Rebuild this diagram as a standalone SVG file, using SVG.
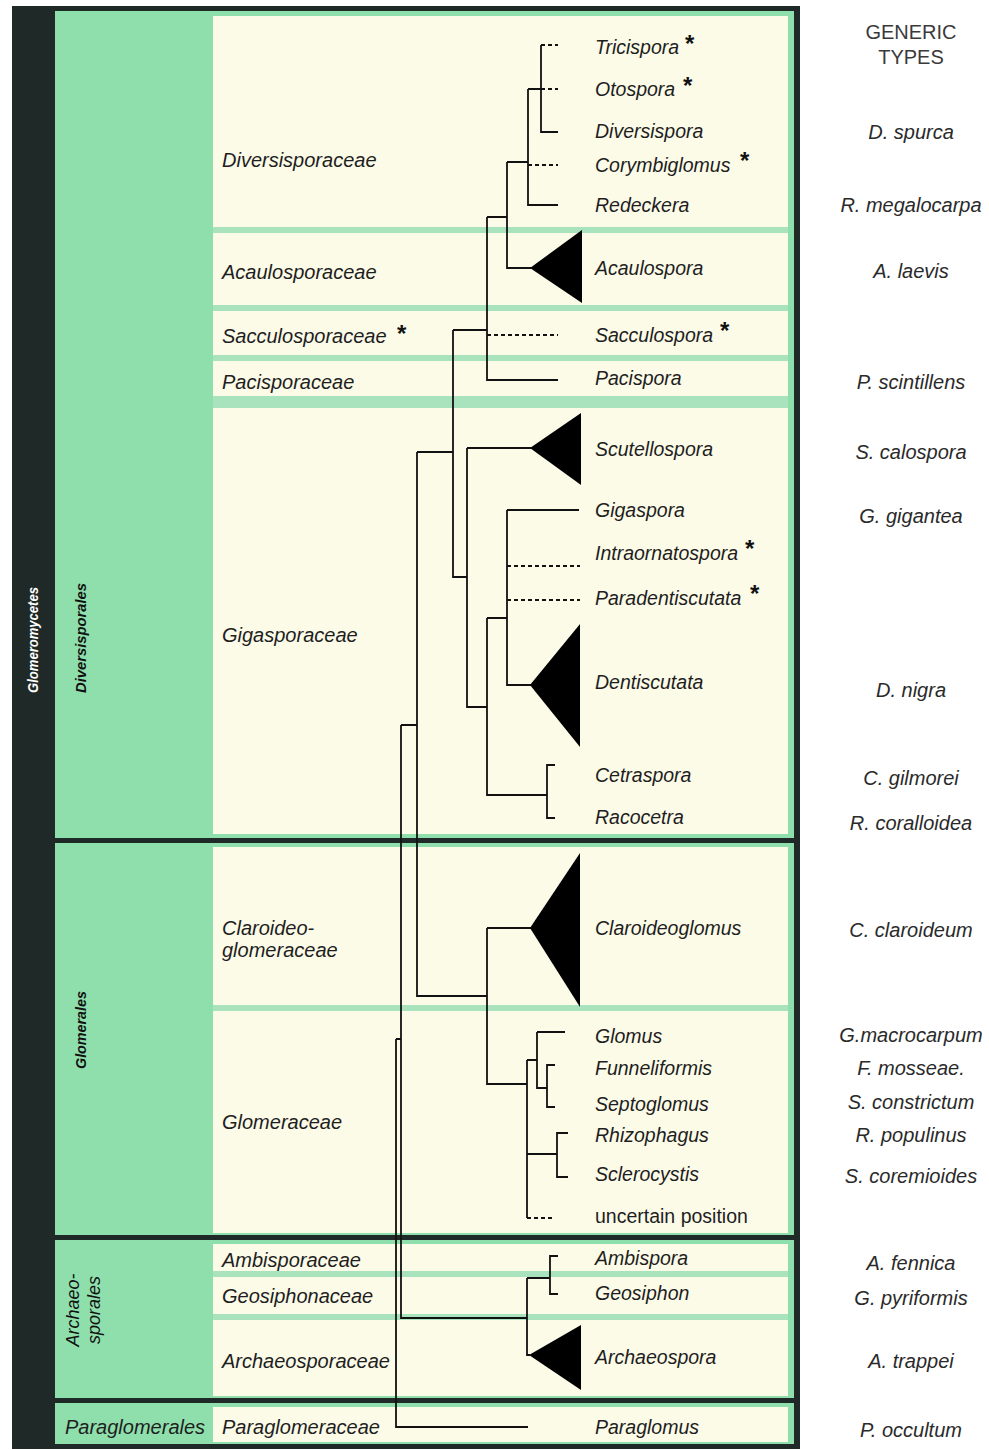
<svg xmlns="http://www.w3.org/2000/svg" width="989" height="1450" viewBox="0 0 989 1450">
<style>
text{font-family:"Liberation Sans",Arial,Helvetica,sans-serif;dominant-baseline:central}
.fam{font-size:20px;font-style:italic;fill:#1e1e1e}
.gen{font-size:19.5px;font-style:italic;fill:#1e1e1e}
.typ{font-size:20px;font-style:italic;fill:#2a2a2a;text-anchor:middle}
.hdr{font-size:20px;fill:#3a3a3a;text-anchor:middle}
.ord{font-size:15px;font-style:italic;font-weight:bold;fill:#111;text-anchor:middle}
.cls{font-size:14px;font-style:italic;font-weight:bold;fill:#fff;text-anchor:middle}
.star{font-size:24px;font-weight:bold;fill:#111}
.ln{fill:none;stroke:#111;stroke-width:1.8}
.ds{stroke-dasharray:4 3}
.tri{fill:#000}
.cream{fill:#fcfbe8}
.sep{fill:#a8e3be}
.dk{fill:#1f2a28}
.grn{fill:#8fdfac}
</style>
<rect x="0" y="0" width="989" height="1450" fill="#fff"/>
<g id="background">
<rect class="dk" x="12" y="6" width="788" height="1443"/>
<rect class="grn" x="55" y="11" width="739" height="1433"/>
<rect class="cream" x="213" y="16" width="575" height="211"/>
<rect class="cream" x="213" y="233" width="575" height="72"/>
<rect class="cream" x="213" y="311" width="575" height="44"/>
<rect class="cream" x="213" y="361" width="575" height="35"/>
<rect class="cream" x="213" y="408" width="575" height="426"/>
<rect class="cream" x="213" y="847" width="575" height="158"/>
<rect class="cream" x="213" y="1011" width="575" height="222"/>
<rect class="cream" x="213" y="1244" width="575" height="27"/>
<rect class="cream" x="213" y="1277" width="575" height="37"/>
<rect class="cream" x="213" y="1320" width="575" height="76"/>
<rect class="cream" x="213" y="1407" width="575" height="35"/>
<rect class="sep" x="213" y="227" width="575" height="6"/>
<rect class="sep" x="213" y="305" width="575" height="6"/>
<rect class="sep" x="213" y="355" width="575" height="6"/>
<rect class="sep" x="213" y="396" width="575" height="12"/>
<rect class="sep" x="213" y="1005" width="575" height="6"/>
<rect class="sep" x="213" y="1271" width="575" height="6"/>
<rect class="sep" x="213" y="1314" width="575" height="6"/>
<rect class="dk" x="55" y="838" width="745" height="5"/>
<rect class="dk" x="55" y="1235" width="745" height="5"/>
<rect class="dk" x="55" y="1398" width="745" height="5"/>
</g>
<g id="ranks">
<text class="cls" transform="translate(33,640) rotate(-90)" textLength="106" lengthAdjust="spacingAndGlyphs">Glomeromycetes</text>
<text class="ord" transform="translate(80,638) rotate(-90)" textLength="110" lengthAdjust="spacingAndGlyphs">Diversisporales</text>
<text class="ord" transform="translate(80,1030) rotate(-90)" textLength="78" lengthAdjust="spacingAndGlyphs">Glomerales</text>
<text class="ord" style="font-size:18px;font-weight:normal" transform="translate(73,1310) rotate(-90)">Archaeo-</text>
<text class="ord" style="font-size:18px;font-weight:normal" transform="translate(94,1310) rotate(-90)">sporales</text>
<text class="fam" x="65" y="1427">Paraglomerales</text>
</g>
<g id="families">
<text class="fam" x="222" y="160">Diversisporaceae</text>
<text class="fam" x="222" y="272">Acaulosporaceae</text>
<text class="fam" x="222" y="336">Sacculosporaceae</text>
<text class="star" x="397" y="333">*</text>
<text class="fam" x="222" y="382">Pacisporaceae</text>
<text class="fam" x="222" y="635">Gigasporaceae</text>
<text class="fam" x="222" y="928">Claroideo-</text>
<text class="fam" x="222" y="950">glomeraceae</text>
<text class="fam" x="222" y="1122">Glomeraceae</text>
<text class="fam" x="222" y="1260">Ambisporaceae</text>
<text class="fam" x="222" y="1296">Geosiphonaceae</text>
<text class="fam" x="222" y="1361">Archaeosporaceae</text>
<text class="fam" x="222" y="1427">Paraglomeraceae</text>
</g>
<g id="genera">
<text class="gen" x="595" y="47">Tricispora</text>
<text class="star" x="685" y="43">*</text>
<text class="gen" x="595" y="89">Otospora</text>
<text class="star" x="683" y="85">*</text>
<text class="gen" x="595" y="131">Diversispora</text>
<text class="gen" x="595" y="165">Corymbiglomus</text>
<text class="star" x="740" y="160">*</text>
<text class="gen" x="595" y="205">Redeckera</text>
<text class="gen" x="595" y="268">Acaulospora</text>
<text class="gen" x="595" y="335">Sacculospora</text>
<text class="star" x="720" y="330">*</text>
<text class="gen" x="595" y="378">Pacispora</text>
<text class="gen" x="595" y="449">Scutellospora</text>
<text class="gen" x="595" y="510">Gigaspora</text>
<text class="gen" x="595" y="553">Intraornatospora</text>
<text class="star" x="745" y="548">*</text>
<text class="gen" x="595" y="598">Paradentiscutata</text>
<text class="star" x="750" y="593">*</text>
<text class="gen" x="595" y="682">Dentiscutata</text>
<text class="gen" x="595" y="775">Cetraspora</text>
<text class="gen" x="595" y="817">Racocetra</text>
<text class="gen" x="595" y="928">Claroideoglomus</text>
<text class="gen" x="595" y="1036">Glomus</text>
<text class="gen" x="595" y="1068">Funneliformis</text>
<text class="gen" x="595" y="1104">Septoglomus</text>
<text class="gen" x="595" y="1135">Rhizophagus</text>
<text class="gen" x="595" y="1174">Sclerocystis</text>
<text class="gen" x="595" y="1216" style="font-style:normal">uncertain position</text>
<text class="gen" x="595" y="1258">Ambispora</text>
<text class="gen" x="595" y="1293">Geosiphon</text>
<text class="gen" x="595" y="1357">Archaeospora</text>
<text class="gen" x="595" y="1427">Paraglomus</text>
</g>
<g id="types">
<text class="hdr" x="911" y="32">GENERIC</text>
<text class="hdr" x="911" y="57">TYPES</text>
<text class="typ" x="911" y="132">D. spurca</text>
<text class="typ" x="911" y="205">R. megalocarpa</text>
<text class="typ" x="911" y="271">A. laevis</text>
<text class="typ" x="911" y="382">P. scintillens</text>
<text class="typ" x="911" y="452">S. calospora</text>
<text class="typ" x="911" y="516">G. gigantea</text>
<text class="typ" x="911" y="690">D. nigra</text>
<text class="typ" x="911" y="778">C. gilmorei</text>
<text class="typ" x="911" y="823">R. coralloidea</text>
<text class="typ" x="911" y="930">C. claroideum</text>
<text class="typ" x="911" y="1035">G.macrocarpum</text>
<text class="typ" x="911" y="1068">F. mosseae.</text>
<text class="typ" x="911" y="1102">S. constrictum</text>
<text class="typ" x="911" y="1135">R. populinus</text>
<text class="typ" x="911" y="1176">S. coremioides</text>
<text class="typ" x="911" y="1263">A. fennica</text>
<text class="typ" x="911" y="1298">G. pyriformis</text>
<text class="typ" x="911" y="1361">A. trappei</text>
<text class="typ" x="911" y="1430">P. occultum</text>
</g>
<g id="connectors">
<path class="ln" d="M541,45 V132 H558 M528,89 H541 M528,89 V205 H558 M507,162 H528 M507,162 V268 H531"/>
<path class="ln ds" d="M541,45 H558 M541,89 H558 M528,165 H558"/>
<path class="ln" d="M487,217 H507 M487,217 V380 H558 M453,330 H487 M453,330 V577 H467"/>
<path class="ln ds" d="M487,335 H558"/>
<path class="ln" d="M467,448 H531 M467,448 V707 H487 M487,618 H507 M487,618 V795 H547 M555,765 H547 V818 H555"/>
<path class="ln" d="M507,510 V685 H531 M507,510 H579"/>
<path class="ln ds" d="M507,566 H580 M507,600 H580"/>
<path class="ln" d="M417,452 H453 M417,452 V996 H487 M487,928 H531 M487,928 V1084 H527"/>
<path class="ln" d="M527,1060 V1218 M527,1060 H537 M537,1032 V1088 H547 M537,1032 H565 M555,1065 H547 V1107 H555 M527,1154 H557 M568,1133 H557 V1177 H568"/>
<path class="ln ds" d="M527,1218 H555"/>
<path class="ln" d="M401,725 H417 M401,725 V1318 H527 M396,1039 H401 M396,1039 V1427 H528"/>
<path class="ln" d="M527,1278 V1355 H530 M527,1278 H550 M558,1256 H550 V1294 H558"/>
<polygon class="tri" points="530,268 582,230 582,303"/>
<polygon class="tri" points="530,448 581,413 581,485"/>
<polygon class="tri" points="530,685 580,624 580,747"/>
<polygon class="tri" points="530,928 580,853 580,1007"/>
<polygon class="tri" points="529,1355 581,1325 581,1390"/>
</g>
</svg>
